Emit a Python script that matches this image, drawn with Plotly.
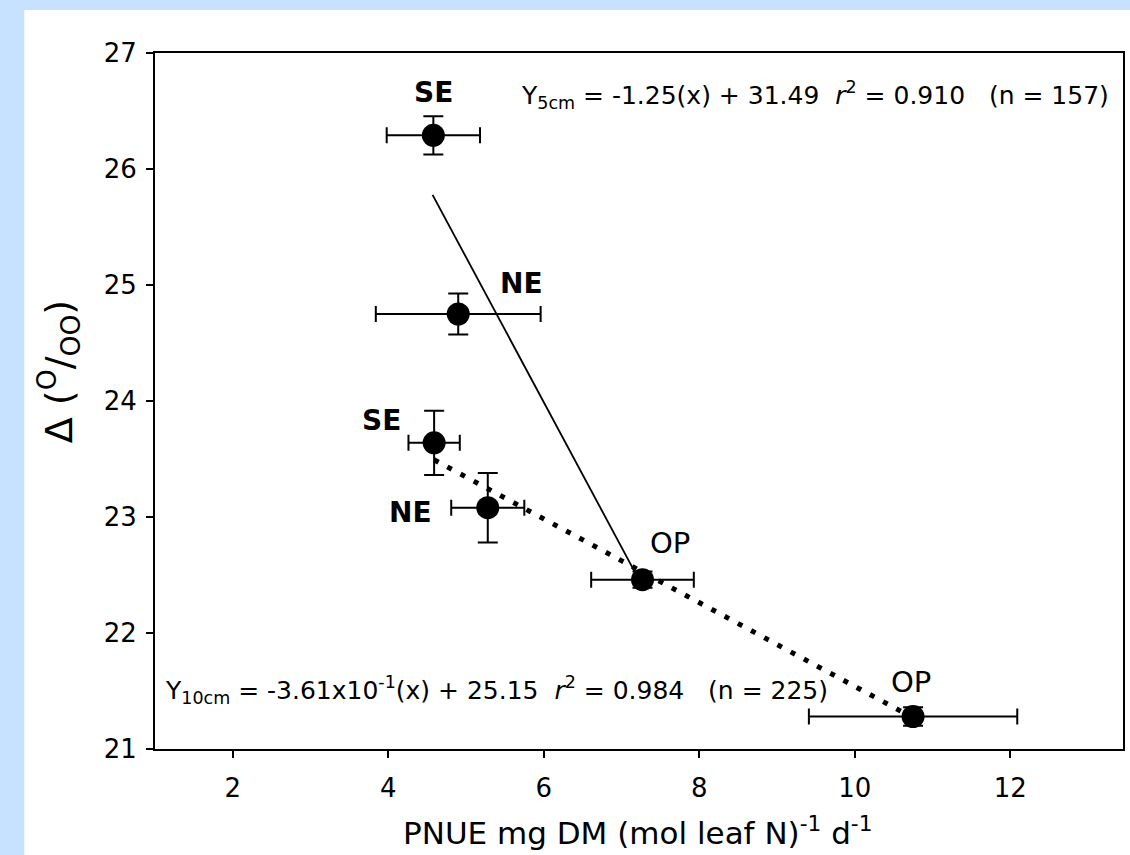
import plotly.graph_objects as go

# ---- data ----
sites = ["SE", "NE", "SE", "NE", "OP", "OP"]
depth = ["5cm", "5cm", "10cm", "10cm", "10cm", "10cm"]
pnue = [4.58, 4.90, 4.59, 5.28, 7.27, 10.75]
pnue_err = [0.60, 1.06, 0.33, 0.47, 0.66, 1.34]
delta = [26.29, 24.75, 23.64, 23.08, 22.46, 21.28]
delta_err = [0.164, 0.177, 0.277, 0.30, 0.07, 0.08]

# regression fits
fit5_slope, fit5_icpt = -1.25, 31.49
fit5_x = [4.57, 7.27]
fit10_slope, fit10_icpt = -0.361, 25.15
fit10_x = [4.59, 10.75]

x_ticks = [2, 4, 6, 8, 10, 12]
y_ticks = [21, 22, 23, 24, 25, 26, 27]

FONT = "DejaVu Sans"

fig = go.Figure()

fig.add_trace(go.Scatter(
    x=fit10_x, y=[fit10_slope * v + fit10_icpt for v in fit10_x],
    mode="lines", line=dict(color="black", width=5, dash="5px,10px"),
    showlegend=False, hoverinfo="skip"))
fig.add_trace(go.Scatter(
    x=fit5_x, y=[fit5_slope * v + fit5_icpt for v in fit5_x],
    mode="lines", line=dict(color="black", width=1.8),
    showlegend=False, hoverinfo="skip"))
fig.add_trace(go.Scatter(
    x=pnue, y=delta, mode="markers",
    marker=dict(color="black", size=23),
    error_x=dict(type="data", array=pnue_err, color="black", thickness=2, width=8),
    error_y=dict(type="data", array=delta_err, color="black", thickness=2, width=10),
    showlegend=False))

# point labels (pixel offsets from their point)
offsets = [(0, 43), (63, 31), (-53, 22), (-77, -5), (27, 37), (-2, 35)]
for s, xv, yv, (dx, dy) in zip(sites, pnue, delta, offsets):
    bold = s != "OP"
    fig.add_annotation(x=xv, y=yv, xref="x", yref="y", text=f"<b>{s}</b>" if bold else s,
                       showarrow=False, xshift=dx, yshift=dy,
                       font=dict(family=FONT, size=28 if bold else 29, color="black"))

NB = "\u00a0"
eq5 = (f"Y<sub>5cm</sub> = -1.25(x) + 31.49{NB}{NB}<i>r</i><sup>2</sup> = 0.910"
       f"{NB}{NB}{NB}(n = 157)")
eq10 = (f"Y<sub>10cm</sub> = -3.61x10<sup>-1</sup>(x) + 25.15{NB}{NB}<i>r</i><sup>2</sup> = 0.984"
        f"{NB}{NB}{NB}(n = 225)")

L, R, T, B = 155, 5, 53, 106
W, H = 1130, 855
pw, ph = W - L - R, H - T - B


def px(xp):
    return (xp - L) / pw


def py(yp):
    return (H - B - yp) / ph


fig.add_annotation(x=px(520), y=py(95), xref="paper", yref="paper", text=eq5,
                   showarrow=False, xanchor="left", yanchor="middle",
                   font=dict(family=FONT, size=25, color="black"))
fig.add_annotation(x=px(163), y=py(690), xref="paper", yref="paper", text=eq10,
                   showarrow=False, xanchor="left", yanchor="middle",
                   font=dict(family=FONT, size=25, color="black"))

# axis titles
fig.add_annotation(x=px(638), y=py(831), xref="paper", yref="paper",
                   text="PNUE mg DM (mol leaf N)<sup>-1</sup> d<sup>-1</sup>",
                   showarrow=False, xanchor="center", yanchor="middle",
                   font=dict(family=FONT, size=31, color="black"))
fig.add_annotation(x=px(58), y=py(372), xref="paper", yref="paper",
                   text="\u0394 (<sup>O</sup>/<sub>OO</sub>)", textangle=-90,
                   showarrow=False, xanchor="center", yanchor="middle",
                   font=dict(family=FONT, size=38, color="black"))

# white panel on light-blue page
fig.add_shape(type="rect", xref="paper", yref="paper", layer="below",
              x0=px(24), x1=px(1140), y0=py(870), y1=py(10),
              fillcolor="white", line=dict(width=0))

axis_common = dict(showline=True, linecolor="black", linewidth=2, mirror=True,
                   ticks="outside", ticklen=7, tickwidth=2, tickcolor="black",
                   showgrid=False, zeroline=False,
                   tickfont=dict(family=FONT, size=26, color="black"))

fig.update_xaxes(range=[1.0, 13.45], tickvals=x_ticks, ticklabelstandoff=8, **axis_common)
fig.update_yaxes(range=[21, 27], tickvals=y_ticks, ticklabelstandoff=4, **axis_common)

fig.update_layout(width=W, height=H, margin=dict(l=L, r=R, t=T, b=B),
                  paper_bgcolor="#C6E2FF", plot_bgcolor="white",
                  font=dict(family=FONT, color="black"))

fig.write_html("out.html")
